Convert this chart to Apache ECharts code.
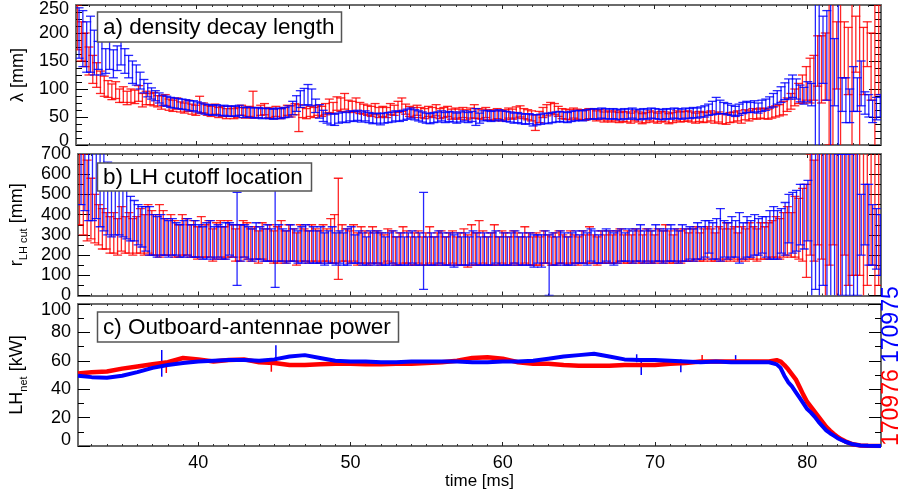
<!DOCTYPE html>
<html><head><meta charset="utf-8">
<script src="https://cdn.jsdelivr.net/npm/echarts@6/dist/echarts.min.js"></script>
<style>html,body{margin:0;padding:0;background:#fff}#c{width:899px;height:503px}</style>
</head><body><div id="c"></div><script>
// ---------- data ----------
const timeRed = [32.2,32.45,32.7,32.95,33.2,33.45,33.7,33.95,34.2,34.45,34.7,34.95,35.2,35.45,35.7,35.95,36.2,36.45,36.7,36.95,
37.2,37.45,37.7,37.95,38.2,38.45,38.7,38.95,39.2,39.45,39.7,39.95,40.2,40.45,40.7,40.95,41.2,41.45,41.7,41.95,
42.2,42.45,42.7,42.95,43.2,43.45,43.7,43.95,44.2,44.45,44.7,44.95,45.2,45.45,45.7,45.95,46.2,46.45,46.7,46.95,
47.2,47.45,47.7,47.95,48.2,48.45,48.7,48.95,49.2,49.45,49.7,49.95,50.2,50.45,50.7,50.95,51.2,51.45,51.7,51.95,
52.2,52.45,52.7,52.95,53.2,53.45,53.7,53.95,54.2,54.45,54.7,54.95,55.2,55.45,55.7,55.95,56.2,56.45,56.7,56.95,
57.2,57.45,57.7,57.95,58.2,58.45,58.7,58.95,59.2,59.45,59.7,59.95,60.2,60.45,60.7,60.95,61.2,61.45,61.7,61.95,
62.2,62.45,62.7,62.95,63.2,63.45,63.7,63.95,64.2,64.45,64.7,64.95,65.2,65.45,65.7,65.95,66.2,66.45,66.7,66.95,
67.2,67.45,67.7,67.95,68.2,68.45,68.7,68.95,69.2,69.45,69.7,69.95,70.2,70.45,70.7,70.95,71.2,71.45,71.7,71.95,
72.2,72.45,72.7,72.95,73.2,73.45,73.7,73.95,74.2,74.45,74.7,74.95,75.2,75.45,75.7,75.95,76.2,76.45,76.7,76.95,
77.2,77.45,77.7,77.95,78.2,78.45,78.7,78.95,79.2,79.45,79.7,79.95,80.2,80.45,80.7,80.95,81.2,81.45,81.7,81.95,
82.2,82.45,82.7,82.95,83.2,83.45,83.7,83.95,84.2,84.45,84.7];
const timeBlue = [32.3,32.55,32.8,33.05,33.3,33.55,33.8,34.05,34.3,34.55,34.8,35.05,35.3,35.55,35.8,36.05,36.3,36.55,36.8,37.05,
37.3,37.55,37.8,38.05,38.3,38.55,38.8,39.05,39.3,39.55,39.8,40.05,40.3,40.55,40.8,41.05,41.3,41.55,41.8,42.05,
42.3,42.55,42.8,43.05,43.3,43.55,43.8,44.05,44.3,44.55,44.8,45.05,45.3,45.55,45.8,46.05,46.3,46.55,46.8,47.05,
47.3,47.55,47.8,48.05,48.3,48.55,48.8,49.05,49.3,49.55,49.8,50.05,50.3,50.55,50.8,51.05,51.3,51.55,51.8,52.05,
52.3,52.55,52.8,53.05,53.3,53.55,53.8,54.05,54.3,54.55,54.8,55.05,55.3,55.55,55.8,56.05,56.3,56.55,56.8,57.05,
57.3,57.55,57.8,58.05,58.3,58.55,58.8,59.05,59.3,59.55,59.8,60.05,60.3,60.55,60.8,61.05,61.3,61.55,61.8,62.05,
62.3,62.55,62.8,63.05,63.3,63.55,63.8,64.05,64.3,64.55,64.8,65.05,65.3,65.55,65.8,66.05,66.3,66.55,66.8,67.05,
67.3,67.55,67.8,68.05,68.3,68.55,68.8,69.05,69.3,69.55,69.8,70.05,70.3,70.55,70.8,71.05,71.3,71.55,71.8,72.05,
72.3,72.55,72.8,73.05,73.3,73.55,73.8,74.05,74.3,74.55,74.8,75.05,75.3,75.55,75.8,76.05,76.3,76.55,76.8,77.05,
77.3,77.55,77.8,78.05,78.3,78.55,78.8,79.05,79.3,79.55,79.8,80.05,80.3,80.55,80.8,81.05,81.3,81.55,81.8,82.05,
82.3,82.55,82.8,83.05,83.3,83.55,83.8,84.05,84.3,84.55,84.8];

// a) density decay length [mm]
const lambdaRed = [210,185,170,150,135,125,112,105,100,95,98,88,90,84,88,86,92,80,84,82,
82,78,76,80,72,70,74,68,66,70,64,62,72,66,62,60,64,58,60,56,
60,56,58,62,57,60,72,58,62,64,58,56,60,56,58,62,60,64,48,58,
56,60,58,62,60,64,70,66,74,72,78,70,68,72,66,64,62,60,64,58,
60,58,64,62,68,72,64,60,58,62,58,56,60,58,62,56,58,60,55,57,
55,58,54,57,60,56,55,58,54,53,56,52,54,57,55,58,60,56,54,52,
40,50,58,62,66,64,60,56,55,54,57,55,54,53,56,55,52,54,50,52,
50,52,49,51,50,48,52,50,47,49,52,50,48,51,50,47,49,52,50,51,
52,50,48,51,49,50,52,48,50,47,46,49,50,52,48,54,52,56,55,57,
56,55,58,60,62,66,72,78,85,92,100,110,115,120,150,135,140,200,130,160,
140,170,150,130,180,120,150,180,140,160,170];
const lambdaRedErr = [40,35,30,25,25,22,20,18,15,14,15,12,14,12,12,12,14,12,12,10,
12,10,12,10,10,10,10,9,9,10,9,9,15,9,9,9,9,9,9,9,
9,9,9,9,9,9,24,9,9,10,9,9,9,9,9,9,10,10,24,9,
9,9,9,9,9,10,12,10,12,12,14,10,10,12,10,9,9,9,10,9,
9,9,10,9,10,12,9,9,9,9,9,9,9,9,10,9,9,9,9,9,
9,9,9,9,12,9,9,9,9,9,9,9,9,9,9,10,10,9,9,9,
14,10,9,10,10,10,9,9,9,9,9,9,9,9,9,9,9,9,9,9,
9,9,9,9,9,9,9,9,9,9,9,9,9,9,9,9,9,9,9,9,
9,9,9,9,9,9,9,9,9,9,9,9,9,9,9,9,9,9,9,9,
9,9,10,10,10,12,12,14,15,18,25,30,40,40,45,60,60,200,200,60,
200,50,60,200,50,200,60,40,60,200,80];
const lambdaBlue = [200,190,175,180,165,160,170,150,160,145,155,165,150,140,130,125,115,105,98,92,
88,84,80,78,76,75,74,73,72,70,70,68,66,64,63,62,63,61,62,60,
61,60,62,58,59,58,57,58,56,57,56,55,57,56,58,60,66,74,82,86,
90,85,70,60,52,48,46,45,48,50,49,52,51,53,50,52,49,47,48,46,
48,49,50,52,51,53,55,57,54,52,50,48,47,49,50,52,49,51,50,48,
50,52,49,51,50,48,52,53,51,52,54,52,51,50,48,49,47,46,47,44,
45,46,48,47,49,50,51,50,49,51,52,53,52,54,55,56,55,57,56,55,
56,55,54,56,55,57,55,54,56,55,57,56,55,54,56,55,57,56,55,57,
56,58,57,59,60,63,66,70,68,66,64,62,60,63,66,68,67,69,66,70,
72,76,80,85,90,96,100,105,100,92,88,95,90,140,150,170,160,120,130,100,
90,80,70,100,90,110,75,70,60,65,70];
const lambdaBlueErr = [45,50,45,50,40,25,45,22,25,25,22,22,22,20,20,18,15,12,12,10,
9,9,9,9,9,9,9,9,9,9,9,9,9,9,9,9,9,9,9,9,
9,9,9,9,9,9,9,9,9,9,9,9,9,9,9,10,12,14,15,15,
18,15,12,12,10,9,10,10,9,9,9,9,9,9,9,9,9,9,9,10,
9,9,9,9,9,9,9,9,9,9,9,9,9,9,9,9,9,9,9,9,
9,9,9,9,15,9,9,9,9,9,9,9,9,9,9,9,9,9,9,10,
9,9,9,9,9,9,9,9,9,9,9,9,9,9,9,9,9,9,9,9,
9,9,9,9,9,9,9,9,9,9,9,9,9,9,9,9,9,9,9,9,
9,9,9,9,10,10,12,15,12,10,10,9,9,10,10,10,9,10,9,10,
10,10,12,12,14,15,18,20,18,15,15,18,20,200,200,60,80,200,60,200,
30,40,30,40,30,40,20,20,20,20,20];

// b) LH cutoff location [mm]
const rcutRed = [550,500,470,430,380,350,330,320,300,310,290,330,300,310,290,300,320,300,330,310,
300,320,310,290,300,280,270,300,290,270,280,260,290,270,280,250,270,280,260,280,
270,250,260,280,270,250,260,240,270,250,260,240,250,270,240,260,250,230,260,250,
240,260,250,240,260,250,270,280,330,260,250,240,260,230,250,240,230,250,240,230,
230,250,240,220,230,250,240,220,230,240,220,230,250,220,230,240,220,230,240,220,
230,240,220,250,230,260,240,220,230,250,220,240,230,220,240,230,220,250,230,220,
230,220,240,230,220,230,240,230,220,240,230,220,240,230,250,230,220,240,230,240,
230,240,250,230,240,230,250,240,230,250,240,230,250,240,260,240,230,250,240,250,
240,250,260,240,250,260,250,240,260,250,270,250,260,240,260,250,270,260,250,270,
260,270,280,290,280,300,320,300,340,330,350,320,450,420,500,480,400,450,500,420,
350,500,450,400,450,500,400,450,500,400,450];
const rcutRedErr = [200,200,200,150,120,100,100,90,90,100,90,110,90,100,90,90,110,100,120,110,
100,130,110,90,100,90,80,100,90,80,90,80,100,80,90,80,90,90,80,90,
80,80,90,90,90,80,80,80,90,80,90,80,90,100,80,90,80,80,90,80,
80,90,80,80,90,80,110,120,250,90,80,80,90,80,90,80,80,90,80,80,
70,80,80,70,80,90,80,70,80,80,70,80,90,70,80,80,70,80,80,70,
80,90,80,100,80,110,80,70,80,100,70,80,80,70,80,80,70,90,80,70,
80,70,80,70,70,80,80,70,70,80,70,70,80,70,90,70,70,80,70,80,
70,80,80,70,80,70,80,80,70,80,80,70,80,80,90,80,70,80,80,80,
70,80,80,70,80,80,80,70,80,80,90,80,80,70,80,80,90,80,80,90,
80,90,90,100,100,110,120,110,150,150,180,230,250,250,250,300,500,300,250,500,
500,300,400,300,350,400,450,400,350,450,400];
const rcutBlue = [650,640,620,600,580,540,520,480,470,450,430,420,400,380,370,350,340,330,320,300,
290,300,290,280,290,280,270,280,290,270,280,270,260,270,280,260,270,260,270,280,
270,280,260,270,260,250,270,260,250,260,250,285,260,250,240,260,250,240,250,260,
240,250,240,250,230,240,250,230,240,230,240,250,230,240,230,220,240,230,240,230,
220,230,240,220,230,220,230,240,220,230,270,220,230,220,240,230,220,230,220,230,
220,230,220,240,230,220,230,220,230,240,220,230,220,230,240,220,230,220,230,220,
230,220,240,150,230,220,240,230,220,230,240,230,240,230,250,240,230,240,250,240,
230,240,250,240,250,240,250,260,240,250,240,260,250,240,250,260,250,240,260,250,
260,250,270,260,280,290,270,280,300,280,270,290,280,285,270,290,280,300,290,300,
290,300,310,300,320,330,380,360,370,400,390,420,350,380,350,400,360,350,380,300,
350,300,350,380,400,350,400,350,300,280,250];
const rcutBlueErr = [200,220,250,230,200,200,200,180,180,150,130,130,120,110,100,100,100,110,120,100,
100,100,90,90,90,80,80,90,90,80,90,80,80,90,90,80,80,80,90,80,
80,230,90,80,80,80,90,80,80,90,80,245,90,80,80,90,80,80,90,90,
80,90,80,90,80,80,90,80,80,80,90,90,70,80,80,70,80,80,80,80,
70,80,80,70,80,70,80,80,70,80,240,70,80,70,80,80,70,80,80,80,
70,80,70,80,80,70,80,70,80,80,70,80,70,80,80,70,80,70,80,80,
70,80,80,150,80,70,80,80,70,80,80,70,80,80,80,80,70,80,80,80,
80,80,80,70,80,80,80,90,80,80,80,90,80,80,80,90,80,80,90,80,
80,80,90,80,90,80,90,100,130,90,90,100,90,125,90,100,90,100,90,90,
100,120,130,120,110,130,120,150,150,150,160,150,450,350,450,350,400,450,400,400,
350,400,350,400,400,150,150,200,150,150,150];

// c) outboard-antennae power [kW]
const powerTime = [32.1,33,34,35,36,37,38,39,40,41,42,43,44,45,46,47,48,49,50,51,52,53,54,55,56,57,58,59,60,61,62,63,64,65,66,67,68,69,70,71,72,73,74,75,76,77,77.5,78,
78.25,78.5,78.75,79,79.25,79.5,79.75,80,80.25,80.5,80.75,81,81.25,81.5,81.75,82,82.25,82.5,83,83.5,84,84.85];
const powerRed = [51,52,52.5,54.5,56,57.5,59,62,61,59.5,60.5,61,59,58.5,57,57,57.5,58,58,57.5,57.5,58,58,58.5,59,60,62,62.5,61.5,59,58,58,57,56.5,56.5,56.5,57,57,57,58,58.5,59.5,59.5,59.5,59.5,59.5,59.5,60.5,
59.5,57,54,50.5,47,41.5,36,31,27.5,24,20.5,17,13.5,10.8,8.5,6.3,4.7,3.3,1.2,0.4,0.1,0];
const powerBlue = [49.5,48.5,48,49.5,52,55,57,58.5,59.5,60,60.5,60.5,60,61,63,64,62,60,59.5,59.5,59,59,59.5,59.5,59.5,59.5,59,59,59.5,59.5,60,61.5,63,64,65,63,61,60.5,60.5,60,59.5,59,59.5,59,59,59,59,57.5,
55,49.5,45,42,38,34,30,26,23.5,20.5,17,14,11,9,7.3,5.5,4.2,3,1.2,0.4,0.1,0];
const spikeBlueT = [37.6,45.1,68.8,69.1,71.7,75.3];
const spikeBlueLo = [48.8,58,59,50,52,58];
const spikeBlueHi = [67.6,71,64.6,61,61,64];
const spikeRedT = [37.9,44.8,73.1];
const spikeRedLo = [51.4,52.3,58];
const spikeRedHi = [59,60,64];

const xTickValues = [40,50,60,70,80];
const xMinorValues = [33,34,35,36,37,38,39,41,42,43,44,45,46,47,48,49,51,52,53,54,55,56,57,58,59,61,62,63,64,65,66,67,68,69,71,72,73,74,75,76,77,78,79,81,82,83,84];
const panelTitles = ['a) density decay length','b) LH cutoff location','c) Outboard-antennae power'];
const shotRed = '170976', shotBlue = '170975';

// ---------- chart ----------
const FONT = 'Liberation Sans, Arial, Helvetica, sans-serif';
const RED = '#ff0000', BLUE = '#0000ff';
const X_MIN = 32.1, X_MAX = 84.85;
const chart = echarts.init(document.getElementById('c'), null, {renderer:'canvas'});

const grids = [
  {left:76, right:18, top:4, height:141},
  {left:76, right:18, top:154, height:141.5},
  {left:76, right:18, top:304, height:142}
];
const yDefs = [
  {min:0, max:250, interval:50, minor:4, name:'λ [mm]', edge:true, lh:8},
  {min:0, max:700, interval:100, minor:2, name:'{m|r}{s|LH cut}{m| [mm]}', edge:false, lh:12},
  {min:0, max:100, interval:20, minor:2, name:'{m|LH}{s|net}{m| [kW]}', edge:true, lh:12}
];
const frame = {show:true, lineStyle:{color:'#6a6a6a', width:2}};
const xAxes = [], yAxes = [];
grids.forEach((g, gi) => {
  const last = gi === 2;
  ['bottom','top'].forEach(pos => {
    xAxes.push({gridIndex:gi, type:'value', min:X_MIN, max:X_MAX, position:pos,
      axisLine: frame,
      axisTick:{show:true, inside:true, length:4, customValues:xTickValues, lineStyle:{color:'#222', width:1}},
      axisLabel:{show: last && pos==='bottom', customValues:xTickValues, fontSize:18, color:'#000', fontFamily:FONT, margin:8},
      splitLine:{show:false},
      name: (last && pos==='bottom') ? 'time [ms]' : '',
      nameLocation:'middle', nameGap:26, nameTextStyle:{fontSize:17, color:'#000', fontFamily:FONT}
    });
    xAxes.push({gridIndex:gi, type:'value', min:X_MIN, max:X_MAX, position:pos,
      axisLine:{show:false},
      axisTick:{show:true, inside:true, length:2, customValues:xMinorValues, lineStyle:{color:'#333', width:1}},
      axisLabel:{show:false, customValues:xMinorValues},
      splitLine:{show:false}
    });
  });
  const d = yDefs[gi];
  ['left','right'].forEach(pos => {
    const lbl = {show: pos==='left', fontSize:18, color:'#000', fontFamily:FONT, margin:7,
        showMinLabel:true, showMaxLabel:true, hideOverlap:false, lineHeight:d.lh};
    if (d.edge) { lbl.verticalAlignMinLabel = 'bottom'; lbl.verticalAlignMaxLabel = 'top'; }
    yAxes.push({gridIndex:gi, type:'value', min:d.min, max:d.max, interval:d.interval, position:pos,
      axisLine: frame,
      axisTick:{show:true, inside:true, length:12, lineStyle:{color:'#000', width:1}},
      minorTick:{show:true, splitNumber:d.minor, length:6, lineStyle:{color:'#000', width:1}},
      axisLabel: lbl,
      splitLine:{show:false}, minorSplitLine:{show:false},
      name: pos==='left' ? d.name : '',
      nameLocation:'middle', nameRotate:90, nameGap:49,
      nameTextStyle:{fontSize:18, color:'#000', fontFamily:FONT,
        rich:{m:{fontSize:18, fontFamily:FONT, color:'#000', lineHeight:24, verticalAlign:'middle'},
              s:{fontSize:11, fontFamily:FONT, color:'#000', lineHeight:12, verticalAlign:'bottom'}}}
    });
  });
});

function errorBars(color){
  return function(params, api){
    const t = api.value(0), v = api.value(1), e = api.value(2);
    const cs = params.coordSys;
    const top = api.coord([t, v + e]);
    const bot = api.coord([t, v - e]);
    const x = top[0];
    const ymin = cs.y, ymax = cs.y + cs.height;
    const y0 = Math.max(ymin, top[1]), y1 = Math.min(ymax, bot[1]);
    const st = {stroke:color, lineWidth:1.3, opacity:0.85};
    const ch = [];
    if (y1 > y0) ch.push({type:'line', shape:{x1:x, y1:y0, x2:x, y2:y1}, style:st});
    const hw = 4.5;
    if (top[1] >= ymin && top[1] <= ymax) ch.push({type:'line', shape:{x1:x-hw, y1:top[1], x2:x+hw, y2:top[1]}, style:st});
    if (bot[1] >= ymin && bot[1] <= ymax) ch.push({type:'line', shape:{x1:x-hw, y1:bot[1], x2:x+hw, y2:bot[1]}, style:st});
    return {type:'group', children:ch};
  };
}
function spikes(color){
  return function(params, api){
    const a = api.coord([api.value(0), api.value(1)]);
    const b = api.coord([api.value(0), api.value(2)]);
    return {type:'line', shape:{x1:a[0], y1:a[1], x2:b[0], y2:b[1]}, style:{stroke:color, lineWidth:1.5}};
  };
}
const zip3 = (t, v, e) => t.map((x, i) => [x, v[i], e[i]]);
const zip2 = (t, v) => t.map((x, i) => [x, v[i]]);

const series = [
  {type:'custom', xAxisIndex:0, yAxisIndex:0, clip:true, renderItem:errorBars(RED), data:zip3(timeRed, lambdaRed, lambdaRedErr), encode:{x:0, y:1}},
  {type:'custom', xAxisIndex:0, yAxisIndex:0, clip:true, renderItem:errorBars(BLUE), data:zip3(timeBlue, lambdaBlue, lambdaBlueErr), encode:{x:0, y:1}},
  {type:'custom', xAxisIndex:4, yAxisIndex:2, clip:true, renderItem:errorBars(RED), data:zip3(timeRed, rcutRed, rcutRedErr), encode:{x:0, y:1}},
  {type:'custom', xAxisIndex:4, yAxisIndex:2, clip:true, renderItem:errorBars(BLUE), data:zip3(timeBlue, rcutBlue, rcutBlueErr), encode:{x:0, y:1}},
  {type:'line', xAxisIndex:8, yAxisIndex:4, clip:true, showSymbol:false, symbol:'none', data:zip2(powerTime, powerRed), lineStyle:{color:RED, width:4.5}, itemStyle:{color:RED}},
  {type:'line', xAxisIndex:8, yAxisIndex:4, clip:true, showSymbol:false, symbol:'none', data:zip2(powerTime, powerBlue), lineStyle:{color:BLUE, width:4}, itemStyle:{color:BLUE}},
  {type:'custom', xAxisIndex:8, yAxisIndex:4, clip:true, renderItem:spikes(RED), data:zip3(spikeRedT, spikeRedLo, spikeRedHi), encode:{x:0, y:1}},
  {type:'custom', xAxisIndex:8, yAxisIndex:4, clip:true, renderItem:spikes(BLUE), data:zip3(spikeBlueT, spikeBlueLo, spikeBlueHi), encode:{x:0, y:1}}
];

const boxes = [
  {x:97.5, y:12, w:244, h:30},
  {x:97.5, y:163, w:214, h:28},
  {x:97.5, y:312, w:301, h:30}
];
const graphic = [];
boxes.forEach((b, i) => {
  graphic.push({type:'rect', z:100, shape:{x:b.x, y:b.y, width:b.w, height:b.h}, style:{fill:'#fff', stroke:'#555', lineWidth:1.5}});
  graphic.push({type:'text', z:101, x:b.x + 5.5, y:b.y + b.h/2 + 1, style:{text:panelTitles[i], fill:'#000', font:'22.5px ' + FONT, textAlign:'left', textVerticalAlign:'middle', align:'left', verticalAlign:'middle'}});
});
graphic.push({type:'text', z:101, x:892, y:446, rotation:Math.PI/2, style:{text:shotRed, fill:RED, font:'23px ' + FONT, textAlign:'left', textVerticalAlign:'middle', align:'left', verticalAlign:'middle'}});
graphic.push({type:'text', z:101, x:892, y:363, rotation:Math.PI/2, style:{text:shotBlue, fill:BLUE, font:'23px ' + FONT, textAlign:'left', textVerticalAlign:'middle', align:'left', verticalAlign:'middle'}});

chart.setOption({
  animation:false,
  backgroundColor:'#fff',
  grid:grids,
  xAxis:xAxes,
  yAxis:yAxes,
  series:series,
  graphic:graphic
});
</script></body></html>
